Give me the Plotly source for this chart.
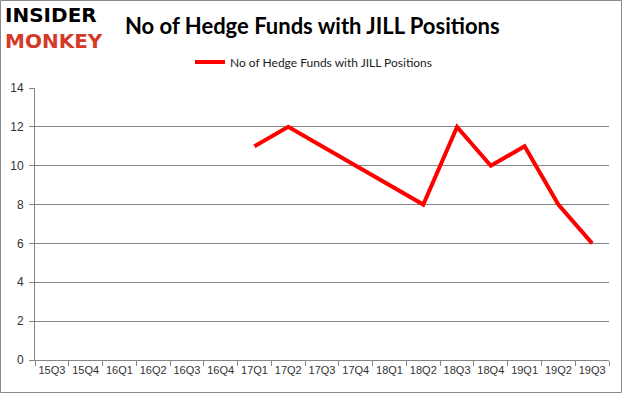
import plotly.graph_objects as go

quarters = ["15Q3", "15Q4", "16Q1", "16Q2", "16Q3", "16Q4", "17Q1", "17Q2", "17Q3",
            "17Q4", "18Q1", "18Q2", "18Q3", "18Q4", "19Q1", "19Q2", "19Q3"]
hedge_funds = [None, None, None, None, None, None, 11, 12, 11, 10, 9, 8, 12, 10, 11, 8, 6]
y_ticks = [0, 2, 4, 6, 8, 10, 12, 14]
series_name = "No of Hedge Funds with JILL Positions"
title_text = "No of Hedge Funds with JILL Positions"

W, H = 625, 395
ml, mr, mt, mb = 35, 16, 88, 35
pw, ph = W - ml - mr, H - mt - mb

def px(x):
    return (x - ml) / pw

def py(y):
    return (H - mb - y) / ph

fig = go.Figure()
fig.add_trace(go.Scatter(
    x=quarters, y=hedge_funds, mode="lines", name=series_name,
    line=dict(color="#ff0000", width=4), connectgaps=False, showlegend=True,
))

fig.update_layout(
    width=W, height=H,
    margin=dict(l=ml, r=mr, t=mt, b=mb, autoexpand=False),
    paper_bgcolor="white", plot_bgcolor="white",
    font=dict(family="Liberation Sans, Arial, sans-serif", color="#222"),
    showlegend=True,
    legend=dict(orientation="h", x=px(190), xanchor="left", y=py(62), yanchor="middle",
                font=dict(size=12, color="#222", family="Lato, sans-serif"),
                bgcolor="rgba(0,0,0,0)", itemwidth=30),
    xaxis=dict(
        type="category", categoryorder="array", categoryarray=quarters,
        range=[-0.5, len(quarters) - 0.5], automargin=False, tickangle=0,
        showgrid=False, showline=True, linecolor="#868686", linewidth=1,
        ticks="outside", tickson="boundaries", ticklen=5, tickcolor="#868686",
        tickfont=dict(size=11, color="#333"), fixedrange=True,
    ),
    yaxis=dict(
        range=[0, 14], tickvals=y_ticks, showgrid=True, gridcolor="#868686", gridwidth=1,
        showline=True, linecolor="#868686", linewidth=1, zeroline=False, automargin=False,
        ticks="outside", ticklen=5, tickcolor="#868686",
        tickfont=dict(size=12, color="#333"), ticklabelstandoff=3,
    ),
)

# title
fig.add_annotation(text=f"<b>{title_text}</b>", x=px(312), y=py(26), xref="paper", yref="paper",
                   showarrow=False, xanchor="center", yanchor="middle",
                   font=dict(size=22, color="black", family="Lato, sans-serif"))
# logo (two lines in one text block)
fig.add_annotation(text="<b>INSIDER</b><br><b><span style='color:#d23a2a'>MONKEY</span></b>",
                   x=px(3), y=py(28), xref="paper", yref="paper",
                   showarrow=False, xanchor="left", yanchor="middle", align="left",
                   font=dict(size=20, color="black", family="DejaVu Sans, sans-serif"))
# outer border
fig.add_shape(type="rect", xref="paper", yref="paper",
              x0=px(0.5), x1=px(621.5), y0=py(392.5), y1=py(0.5),
              line=dict(color="#8a8a8a", width=1), fillcolor="rgba(0,0,0,0)", layer="below")

fig.write_html("out.html", post_script="document.body.style.margin='0';",
               config={"displayModeBar": False})
